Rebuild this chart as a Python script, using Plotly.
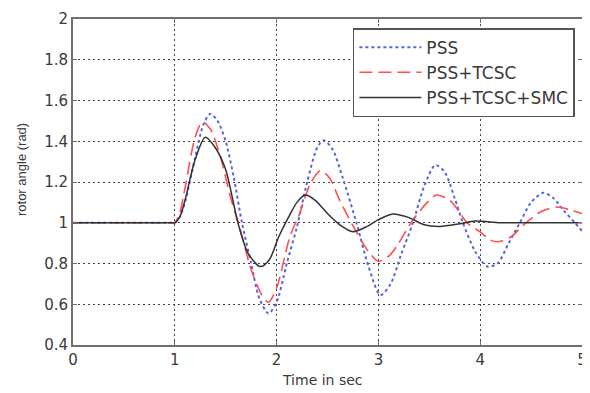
import plotly.graph_objects as go

# ---- data ----
t_pss = [0, 0.5, 0.9, 0.97, 1.0, 1.05, 1.1, 1.2, 1.28, 1.35, 1.42, 1.5, 1.58, 1.66, 1.75, 1.83, 1.92, 2.0,
         2.1, 2.2, 2.3, 2.4, 2.46, 2.55, 2.65, 2.79, 2.9, 3.02, 3.12, 3.22, 3.34, 3.45, 3.56,
         3.65, 3.75, 3.83, 3.95, 4.07, 4.17, 4.28, 4.39, 4.5, 4.62, 4.72, 4.82, 4.93, 5.0]
v_pss = [1, 1, 1, 1, 1, 1.03, 1.1, 1.32, 1.48, 1.535, 1.5, 1.4, 1.22, 1.0, 0.8, 0.63, 0.555, 0.61,
         0.8, 0.98, 1.2, 1.37, 1.405, 1.36, 1.22, 0.99, 0.79, 0.645, 0.7, 0.84, 1.0, 1.18, 1.283,
         1.25, 1.12, 1.0, 0.86, 0.785, 0.8, 0.9, 1.0, 1.1, 1.147, 1.12, 1.06, 1.0, 0.96]

t_tcsc = [0, 0.5, 0.9, 0.97, 1.0, 1.05, 1.1, 1.2, 1.27, 1.35, 1.45, 1.55, 1.63, 1.75, 1.85, 1.92, 2.0, 2.13,
          2.23, 2.33, 2.43, 2.52, 2.62, 2.79, 2.9, 3.0, 3.11, 3.2, 3.32, 3.48, 3.57, 3.7, 3.8,
          3.87, 4.0, 4.1, 4.18, 4.3, 4.45, 4.6, 4.76, 4.9, 5.0]
v_tcsc = [1, 1, 1, 1, 1, 1.05, 1.17, 1.42, 1.495, 1.46, 1.32, 1.12, 0.99, 0.77, 0.65, 0.61, 0.68, 0.93,
          1.05, 1.19, 1.255, 1.22, 1.11, 0.95, 0.86, 0.81, 0.84, 0.9, 1.0, 1.1, 1.136, 1.11, 1.05,
          1.0, 0.955, 0.915, 0.907, 0.93, 1.0, 1.055, 1.077, 1.06, 1.045]

t_smc = [0, 0.5, 0.9, 0.97, 1.0, 1.05, 1.1, 1.2, 1.3, 1.4, 1.5, 1.62, 1.72, 1.84, 1.93, 2.02, 2.12, 2.2, 2.28,
         2.38, 2.5, 2.62, 2.75, 2.9, 3.0, 3.14, 3.3, 3.45, 3.6, 3.8, 3.95, 4.2, 4.5, 5.0]
v_smc = [1, 1, 1, 1, 1, 1.03, 1.11, 1.31, 1.42, 1.367, 1.26, 1.0, 0.85, 0.785, 0.82, 0.93, 1.03, 1.1, 1.136,
         1.11, 1.045, 0.99, 0.956, 0.985, 1.015, 1.043, 1.025, 0.99, 0.982, 0.995, 1.008, 1.0, 1.0, 1.0]

series_names = ["PSS", "PSS+TCSC", "PSS+TCSC+SMC"]
x_ticks = [0, 1, 2, 3, 4, 5]
y_ticks = [0.4, 0.6, 0.8, 1, 1.2, 1.4, 1.6, 1.8, 2]
x_title = "Time in sec"
y_title = "rotor angle (rad)"

fig = go.Figure()
fig.add_trace(go.Scatter(x=t_pss, y=v_pss, name=series_names[0], mode="lines",
                         line=dict(color="#5566dd", width=2, dash="dot", shape="spline", smoothing=0.8)))
fig.add_trace(go.Scatter(x=t_tcsc, y=v_tcsc, name=series_names[1], mode="lines",
                         line=dict(color="#ff4f4f", width=1.6, dash="13px,6px", shape="spline", smoothing=0.8)))
fig.add_trace(go.Scatter(x=t_smc, y=v_smc, name=series_names[2], mode="lines",
                         line=dict(color="#333333", width=1.5, shape="spline", smoothing=0.8)))

axis_common = dict(
    showline=True, linecolor="#707070", linewidth=2, mirror="allticks",
    ticks="inside", ticklen=4, tickcolor="#707070",
    showgrid=True, gridcolor="#444444", gridwidth=1, griddash="2px,3px",
    zeroline=False, automargin=False, ticklabeloverflow="allow",
    tickfont=dict(family="DejaVu Sans", size=15, color="#3a3a3a"),
)

fig.update_xaxes(range=[0, 5], tickvals=x_ticks, ticktext=[str(v) for v in x_ticks], **axis_common)
fig.update_yaxes(range=[0.4, 2], tickvals=y_ticks, ticktext=[f"{v:g}" for v in y_ticks], **axis_common)

fig.add_annotation(text=x_title, xref="paper", yref="paper", x=0.49, y=-0.107,
                   xanchor="center", yanchor="middle", showarrow=False,
                   font=dict(family="DejaVu Sans", size=14, color="#3a3a3a"))
fig.add_annotation(text=y_title, xref="paper", yref="paper", x=-0.1, y=0.537,
                   xanchor="center", yanchor="middle", showarrow=False, textangle=-90,
                   font=dict(family="Liberation Sans", size=13, color="#3a3a3a"))

# page body has an 8px default margin: shrink the figure so the plot lands where the reference has it
fig.update_layout(
    width=582, height=385,
    margin=dict(l=65, r=8, t=11, b=48),
    paper_bgcolor="white", plot_bgcolor="white",
    legend=dict(x=0.986, y=0.972, xanchor="right", yanchor="top",
                bgcolor="white", bordercolor="#555555", borderwidth=1.5,
                font=dict(family="DejaVu Sans", size=17, color="#3a3a3a"),
                itemwidth=62, tracegroupgap=0),
    showlegend=True,
)

fig.write_html("out.html")
